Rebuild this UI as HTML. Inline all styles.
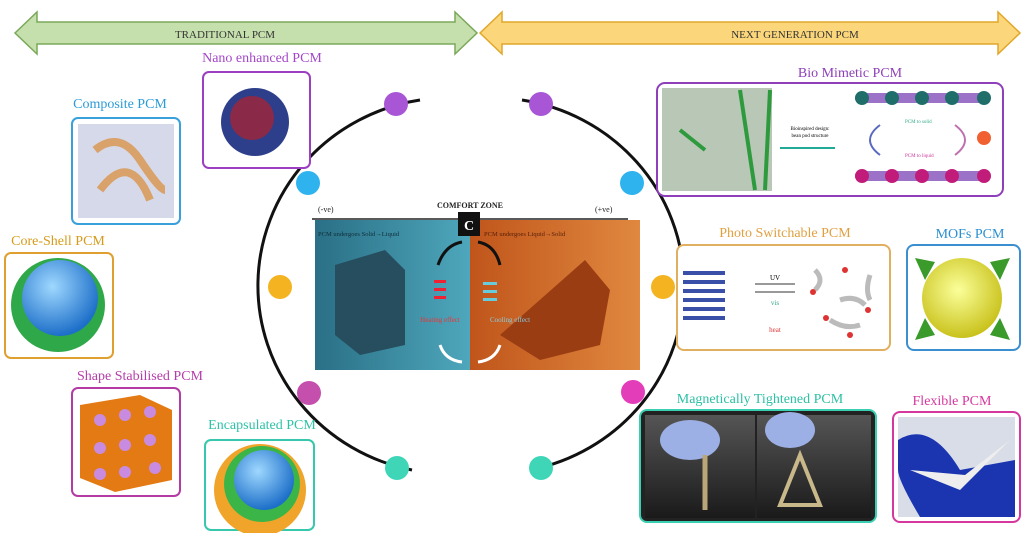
<!DOCTYPE html>
<html><head><meta charset="utf-8"><style>
html,body{margin:0;padding:0;background:#fff}
svg{display:block}
text{font-family:"Liberation Serif",serif}
</style></head><body>
<svg width="1024" height="533" viewBox="0 0 1024 533" xmlns="http://www.w3.org/2000/svg">
<defs>
<radialGradient id="sph" cx="40%" cy="35%" r="65%"><stop offset="0" stop-color="#9fd8ff"/><stop offset="1" stop-color="#1d6fc9"/></radialGradient>
<radialGradient id="yel" cx="45%" cy="40%" r="60%"><stop offset="0" stop-color="#fbff9a"/><stop offset="1" stop-color="#c9c21c"/></radialGradient>
<linearGradient id="blueL" x1="0" x2="1"><stop offset="0" stop-color="#2a6f85"/><stop offset="1" stop-color="#4ea7bc"/></linearGradient>
<linearGradient id="orR" x1="0" x2="1"><stop offset="0" stop-color="#c0551b"/><stop offset="1" stop-color="#e0883f"/></linearGradient>
<linearGradient id="dk" x1="0" y1="0" x2="0" y2="1"><stop offset="0" stop-color="#555"/><stop offset="1" stop-color="#1a1a1a"/></linearGradient>
</defs>
<!-- top arrows -->
<polygon points="15,33 37,12 37,22 455,22 455,12 477,33 455,54 455,44 37,44 37,54" fill="#c6e0ad" stroke="#7aa85a" stroke-width="1.5"/>
<text x="225" y="38" font-size="11" text-anchor="middle" fill="#333">TRADITIONAL PCM</text>
<polygon points="480,33 502,12 502,22 998,22 998,12 1020,33 998,54 998,44 502,44 502,54" fill="#fcd67a" stroke="#e0a72a" stroke-width="1.5"/>
<text x="795" y="38" font-size="11" text-anchor="middle" fill="#333">NEXT GENERATION PCM</text>

<!-- ring -->
<path d="M420,100 A192,188 0 0 0 412,470" fill="none" stroke="#111" stroke-width="3"/>
<path d="M522,100 A192,188 0 0 1 530,470" fill="none" stroke="#111" stroke-width="3"/>
<g>
<circle cx="396" cy="104" r="12" fill="#a855d6"/><circle cx="541" cy="104" r="12" fill="#a855d6"/>
<circle cx="308" cy="183" r="12" fill="#2fb3ee"/><circle cx="632" cy="183" r="12" fill="#2fb3ee"/>
<circle cx="280" cy="287" r="12" fill="#f4b321"/><circle cx="663" cy="287" r="12" fill="#f4b321"/>
<circle cx="309" cy="393" r="12" fill="#c44fad"/><circle cx="633" cy="392" r="12" fill="#e43db9"/>
<circle cx="397" cy="468" r="12" fill="#3fd6b8"/><circle cx="541" cy="468" r="12" fill="#3fd6b8"/>
</g>

<!-- center -->
<text x="470" y="208" font-size="8" text-anchor="middle" font-weight="bold" fill="#222">COMFORT ZONE</text>
<text x="318" y="212" font-size="8" fill="#222">(-ve)</text>
<text x="595" y="212" font-size="8" fill="#222">(+ve)</text>
<line x1="312" y1="219" x2="628" y2="219" stroke="#222" stroke-width="1.5"/>
<rect x="315" y="220" width="155" height="150" fill="url(#blueL)"/>
<rect x="470" y="220" width="170" height="150" fill="url(#orR)"/>
<polygon points="335,265 385,250 405,270 405,345 360,355 335,335" fill="#264e5e"/>
<polygon points="500,335 585,260 610,290 600,345 540,360" fill="#9a3d13"/>
<rect x="458" y="212" width="22" height="24" fill="#111"/>
<text x="469" y="230" font-size="14" font-weight="bold" fill="#fff" text-anchor="middle">C</text>
<text x="318" y="236" font-size="6.5" fill="#0f2e3a">PCM undergoes Solid→Liquid</text>
<text x="484" y="236" font-size="6.5" fill="#5a200a">PCM undergoes Liquid→Solid</text>
<rect x="434" y="280" width="12" height="3" fill="#e23"/><rect x="434" y="288" width="12" height="3" fill="#e23"/><rect x="434" y="296" width="12" height="3" fill="#e23"/>
<rect x="483" y="282" width="14" height="3" fill="#6cd"/><rect x="483" y="290" width="14" height="3" fill="#6cd"/><rect x="483" y="298" width="14" height="3" fill="#6cd"/>
<text x="440" y="322" font-size="7" fill="#e33" text-anchor="middle">Heating effect</text>
<text x="510" y="322" font-size="7" fill="#8cd" text-anchor="middle">Cooling effect</text>
<path d="M438,265 Q445,245 462,242" stroke="#111" stroke-width="3" fill="none"/>
<path d="M478,242 Q495,245 500,265" stroke="#111" stroke-width="3" fill="none"/>
<path d="M440,345 Q445,360 462,362" stroke="#fff" stroke-width="3" fill="none"/>
<path d="M478,362 Q495,360 500,345" stroke="#fff" stroke-width="3" fill="none"/>

<g font-size="14">
<text x="262" y="62" fill="#a447c8" text-anchor="middle">Nano enhanced PCM</text>
<text x="120" y="108" fill="#2a9bd7" text-anchor="middle">Composite PCM</text>
<text x="58" y="245" fill="#d69b1a" text-anchor="middle">Core-Shell PCM</text>
<text x="140" y="380" fill="#b63ca8" text-anchor="middle">Shape Stabilised PCM</text>
<text x="262" y="429" fill="#2fc2a8" text-anchor="middle">Encapsulated PCM</text>
<text x="850" y="77" fill="#8e3fb9" text-anchor="middle">Bio Mimetic PCM</text>
<text x="785" y="237" fill="#e0a040" text-anchor="middle">Photo Switchable PCM</text>
<text x="970" y="238" fill="#2a8fd0" text-anchor="middle">MOFs PCM</text>
<text x="760" y="403" fill="#2cc0a4" text-anchor="middle">Magnetically Tightened PCM</text>
<text x="952" y="405" fill="#d6379f" text-anchor="middle">Flexible PCM</text>
</g>

<rect x="203" y="72" width="107" height="96" rx="6" fill="#fff" stroke="#9c3fc0" stroke-width="2"/>
<circle cx="255" cy="122" r="34" fill="#2d3f8a"/><circle cx="252" cy="118" r="22" fill="#8a2a48"/>

<rect x="72" y="118" width="108" height="106" rx="6" fill="#fff" stroke="#3aa0db" stroke-width="2"/>
<rect x="78" y="124" width="96" height="94" fill="#d5d9ea"/>
<path d="M95,150 Q120,130 140,160 T165,190 M100,190 Q130,150 150,200" stroke="#d9a26a" stroke-width="8" fill="none"/>

<rect x="5" y="253" width="108" height="105" rx="6" fill="#fff" stroke="#e0a030" stroke-width="2"/>
<circle cx="58" cy="305" r="47" fill="#2fa84a"/><circle cx="60" cy="298" r="38" fill="url(#sph)"/>

<rect x="72" y="388" width="108" height="108" rx="6" fill="#fff" stroke="#b43aa4" stroke-width="2"/>
<polygon points="80,405 140,395 172,410 172,480 115,492 80,478" fill="#e37a14"/>
<g fill="#c98be0"><circle cx="100" cy="420" r="6"/><circle cx="125" cy="415" r="6"/><circle cx="150" cy="412" r="6"/><circle cx="100" cy="448" r="6"/><circle cx="125" cy="445" r="6"/><circle cx="150" cy="440" r="6"/><circle cx="100" cy="474" r="6"/><circle cx="125" cy="472" r="6"/><circle cx="155" cy="468" r="6"/></g>

<rect x="205" y="440" width="109" height="90" rx="6" fill="#fff" stroke="#35c8ac" stroke-width="2"/>
<circle cx="260" cy="490" r="46" fill="#f0a52a"/><circle cx="262" cy="484" r="38" fill="#3bb548"/><circle cx="264" cy="480" r="30" fill="url(#sph)"/>

<rect x="657" y="83" width="346" height="113" rx="8" fill="#fff" stroke="#8e3fb9" stroke-width="2"/>
<rect x="662" y="88" width="110" height="103" fill="#b9c7b6"/>
<path d="M740,90 L755,190 M770,90 L765,190 M680,130 L705,150" stroke="#2e9a3e" stroke-width="4" fill="none"/>
<text x="810" y="130" font-size="5" text-anchor="middle">Bioinspired design:</text>
<text x="810" y="137" font-size="5" text-anchor="middle">bean pod structure</text>
<line x1="780" y1="148" x2="835" y2="148" stroke="#2a9" stroke-width="2"/>
<rect x="855" y="93" width="135" height="10" rx="5" fill="#9b72c8"/>
<g fill="#1f6e6a"><circle cx="862" cy="98" r="7"/><circle cx="892" cy="98" r="7"/><circle cx="922" cy="98" r="7"/><circle cx="952" cy="98" r="7"/><circle cx="984" cy="98" r="7"/></g>
<rect x="855" y="171" width="135" height="10" rx="5" fill="#9b72c8"/>
<g fill="#c21c7a"><circle cx="862" cy="176" r="7"/><circle cx="892" cy="176" r="7"/><circle cx="922" cy="176" r="7"/><circle cx="952" cy="176" r="7"/><circle cx="984" cy="176" r="7"/></g>
<circle cx="984" cy="138" r="7" fill="#f06030"/>
<path d="M880,125 Q860,140 880,155" stroke="#5a6ac0" stroke-width="2" fill="none"/>
<path d="M955,125 Q975,140 955,155" stroke="#c070b0" stroke-width="2" fill="none"/>
<text x="905" y="123" font-size="5" fill="#3a8">PCM to solid</text>
<text x="905" y="157" font-size="5" fill="#c39">PCM to liquid</text>

<rect x="677" y="245" width="213" height="105" rx="7" fill="#fff" stroke="#e0b060" stroke-width="2"/>
<g stroke="#3a4fa8" stroke-width="4"><line x1="683" y1="273" x2="725" y2="273"/><line x1="683" y1="282" x2="725" y2="282"/><line x1="683" y1="291" x2="725" y2="291"/><line x1="683" y1="300" x2="725" y2="300"/><line x1="683" y1="309" x2="725" y2="309"/><line x1="683" y1="318" x2="725" y2="318"/></g>
<line x1="755" y1="284" x2="795" y2="284" stroke="#333"/><line x1="755" y1="292" x2="795" y2="292" stroke="#333"/>
<text x="775" y="280" font-size="7" text-anchor="middle">UV</text>
<text x="775" y="305" font-size="7" text-anchor="middle" fill="#3a8">vis</text>
<text x="775" y="332" font-size="7" text-anchor="middle" fill="#d33">heat</text>
<g stroke="#bbb" stroke-width="5" fill="none"><path d="M815,270 q10,10 0,20"/><path d="M840,300 q15,-5 25,5"/><path d="M870,275 q-5,15 0,25"/><path d="M830,320 q15,10 30,5"/></g>
<g fill="#d33"><circle cx="813" cy="292" r="3"/><circle cx="845" cy="270" r="3"/><circle cx="868" cy="310" r="3"/><circle cx="826" cy="318" r="3"/><circle cx="850" cy="335" r="3"/></g>

<rect x="907" y="245" width="113" height="105" rx="7" fill="#fff" stroke="#3a8fd0" stroke-width="2"/>
<circle cx="962" cy="298" r="40" fill="url(#yel)"/>
<g fill="#3a9a2a"><polygon points="915,258 935,262 925,280"/><polygon points="1010,258 990,262 1000,280"/><polygon points="915,340 935,335 925,318"/><polygon points="1010,340 990,335 1000,318"/></g>

<rect x="640" y="410" width="236" height="112" rx="7" fill="#222" stroke="#3acfb0" stroke-width="2"/>
<rect x="645" y="415" width="110" height="103" fill="url(#dk)"/>
<rect x="757" y="415" width="114" height="103" fill="url(#dk)"/>
<ellipse cx="690" cy="440" rx="30" ry="20" fill="#9cb0e6"/>
<line x1="705" y1="455" x2="705" y2="510" stroke="#b9a77a" stroke-width="5"/>
<ellipse cx="790" cy="430" rx="25" ry="18" fill="#9cb0e6"/>
<polygon points="800,455 780,505 820,505" fill="none" stroke="#c8b88a" stroke-width="4"/>

<rect x="893" y="412" width="127" height="110" rx="7" fill="#fff" stroke="#d6379f" stroke-width="2"/>
<rect x="898" y="417" width="117" height="100" fill="#d8dde8"/>
<path d="M898,440 Q930,420 960,470 L1015,460 L1015,517 L920,517 Q898,480 898,470 Z" fill="#1b35b0"/>
<polygon points="910,470 960,490 1010,440 965,475" fill="#eee"/>
</svg>
</body></html>
